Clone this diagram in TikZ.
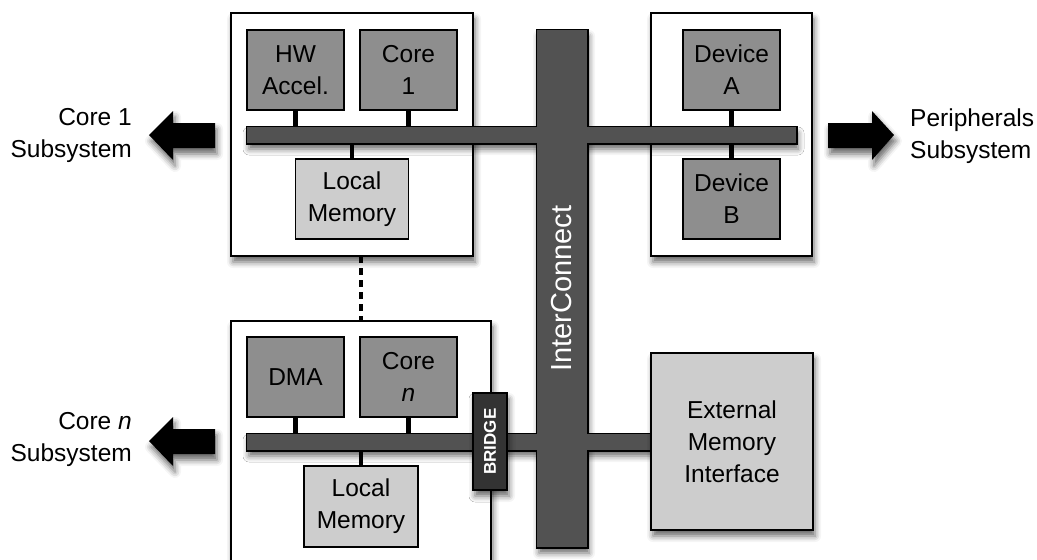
\documentclass[tikz,border=0pt]{standalone}
\usepackage{fontspec}
\setmainfont{Liberation Sans}
\usetikzlibrary{shadows.blur}
\definecolor{darkbox}{HTML}{8E8E8E}
\definecolor{lightbox}{HTML}{CDCDCD}
\definecolor{busgray}{HTML}{525252}
\definecolor{bridgegray}{HTML}{333333}
\newcommand\myboxfont{\fontsize{24.5}{32}\selectfont}
\tikzset{
  myshadow/.style={blur shadow={shadow xshift=2pt, shadow yshift=-6pt, shadow blur radius=6pt, shadow opacity=60}},
  subbox/.style={draw, line width=1.5pt, fill=white, inner sep=0pt, outer sep=0pt, myshadow},
  dbox/.style={draw, line width=1.5pt, fill=darkbox, inner sep=0pt, outer sep=0pt, align=center, font=\myboxfont},
  lbox/.style={draw, line width=1.5pt, fill=lightbox, inner sep=0pt, outer sep=0pt, align=center, font=\myboxfont},
  bar/.style={draw, line width=3pt, fill=busgray, inner sep=0pt, outer sep=0pt, myshadow},
  link/.style={line width=4.5pt},
  blockarrow/.style={fill=black, myshadow},
  label/.style={inner sep=0pt, font=\myboxfont},
}
\begin{document}
\begin{tikzpicture}[x=1pt, y=-1pt]
\useasboundingbox (0,0) rectangle (1037,560);

% subsystem boxes
\node[subbox, minimum width=242pt, minimum height=243pt] (sub1) at (352,134.5) {};
\node[subbox, minimum width=161pt, minimum height=243pt] (subp) at (731.5,134.5) {};
\node[subbox, minimum width=260pt, minimum height=269pt] (subn) at (361,455.5) {};

% inner boxes
\node[dbox, minimum width=97pt, minimum height=80pt] (hw) at (295.5,70) {HW\\Accel.};
\node[dbox, minimum width=97pt, minimum height=80pt] (core1) at (408.5,70) {Core\\1};
\node[lbox, minimum width=113pt, minimum height=80pt] (lm1) at (352,199) {Local\\Memory};
\node[dbox, minimum width=97pt, minimum height=80pt] (devA) at (731.5,70) {Device\\A};
\node[dbox, minimum width=97pt, minimum height=80pt] (devB) at (731.5,199) {Device\\B};
\node[dbox, minimum width=97pt, minimum height=80pt] (dma) at (295.5,377) {DMA};
\node[dbox, minimum width=97pt, minimum height=80pt] (coren) at (408.5,377) {Core\\\textit{n}};
\node[lbox, minimum width=114pt, minimum height=81pt] (lmn) at (361,506.5) {Local\\Memory};

% buses and interconnect (pass 1: outline + shadow)
\node[bar, minimum width=549pt, minimum height=16pt] (bus1) at (521.5,135) {};
\node[bar, minimum width=404pt, minimum height=16pt] (busn) at (449,442) {};
\node[bar, minimum width=50pt, minimum height=517pt] (ic) at (562,288.5) {};
% pass 2: fill interiors to merge
\fill[busgray] (bus1.south west) rectangle (bus1.north east);
\fill[busgray] (busn.south west) rectangle (busn.north east);
\fill[busgray] (ic.south west) rectangle (ic.north east);
\node[rotate=90, text=white, inner sep=0pt, font=\fontsize{29}{34}\selectfont] (iclabel) at (ic.center) {InterConnect};

% connectors
\draw[link] (hw.south) -- (hw.south |- bus1.north);
\draw[link] (core1.south) -- (core1.south |- bus1.north);
\draw[link] (lm1.north) -- (lm1.north |- bus1.south);
\draw[link] (devA.south) -- (devA.south |- bus1.north);
\draw[link] (devB.north) -- (devB.north |- bus1.south);
\draw[link] (dma.south) -- (dma.south |- busn.north);
\draw[link] (coren.south) -- (coren.south |- busn.north);
\draw[link] (lmn.north) -- (lmn.north |- busn.south);
\draw[line width=3.5pt, dash pattern=on 7pt off 5pt] (lmn.north |- sub1.south) -- (lmn.north |- subn.north);

% bridge and external memory
\node[draw, line width=1.5pt, fill=bridgegray, inner sep=0pt, outer sep=0pt, minimum width=34pt, minimum height=97pt, myshadow] (bridge) at (490,441.5) {};
\node[rotate=90, text=white, inner sep=0pt, font=\fontsize{17}{20}\selectfont\bfseries] (bridgelabel) at (bridge.center) {BRIDGE};
\node[lbox, myshadow, minimum width=162pt, minimum height=177pt] (ext) at (732,441.5) {External\\Memory\\Interface};

% block arrows
\fill[blockarrow] (149,135) -- (173,111) -- (173,123) -- (215,123) -- (215,148) -- (173,148) -- (173,160) -- cycle;
\fill[blockarrow] (149,441) -- (173,417) -- (173,429) -- (215,429) -- (215,454) -- (173,454) -- (173,466) -- cycle;
\fill[blockarrow] (828,123) -- (872,123) -- (872,111) -- (894,135) -- (872,160) -- (872,148) -- (828,148) -- cycle;

% labels
\node[label, anchor=east, align=right] (lab1) at (132,135) {Core 1\\Subsystem};
\node[label, anchor=east, align=right] (labn) at (132,439) {Core \textit{n}\\Subsystem};
\node[label, anchor=west, align=left] (labp) at (910,136) {Peripherals\\Subsystem};
\end{tikzpicture}
\end{document}
